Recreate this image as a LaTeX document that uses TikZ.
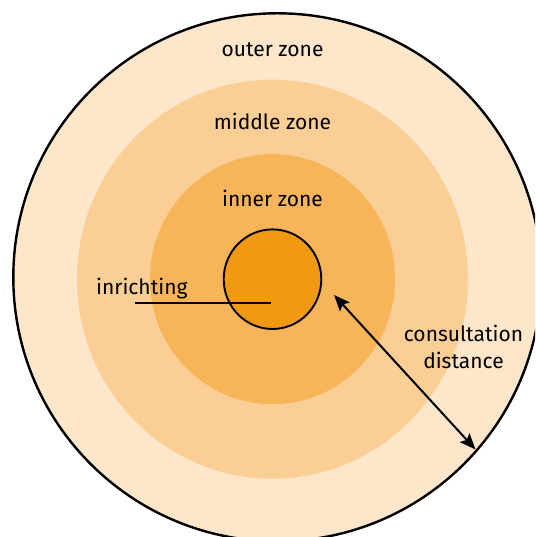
\documentclass[tikz,border=0pt]{standalone}
\usepackage{fontspec}
\setmainfont{Fira Sans}
\usetikzlibrary{arrows.meta}
\definecolor{outerc}{RGB}{253,230,201}
\definecolor{middlec}{RGB}{250,206,148}
\definecolor{innerc}{RGB}{247,180,88}
\definecolor{corec}{RGB}{242,153,19}
\tikzset{
  label/.style={font=\fontsize{21}{26.7}\selectfont, text=black, inner sep=0pt},
  arrowline/.style={line width=2pt, {Stealth[length=16pt,width=13pt,inset=3pt]}-{Stealth[length=16pt,width=13pt,inset=3pt]}},
  leader/.style={line width=2pt}
}
\begin{document}
\begin{tikzpicture}[x=1pt,y=1pt]
\useasboundingbox (0,0) rectangle (535,537);
\clip (0,0) rectangle (535,537);
\coordinate (octr) at (277.3,259.7);
\coordinate (ctr) at (272.5,257.8);
\filldraw[fill=outerc, draw=black, line width=2.4pt] (octr) circle [radius=264pt];
\fill[middlec] (ctr) ellipse [x radius=195.5pt, y radius=199.5pt];
\fill[innerc] (ctr) ellipse [x radius=122.5pt, y radius=125pt];
\filldraw[fill=corec, draw=black, line width=1.9pt] (ctr) ellipse [x radius=48.8pt, y radius=49.8pt];
\node[label] (outerlab) at (272.5,487) {outer zone};
\node[label] (middlelab) at (272.5,416) {middle zone};
\node[label] (innerlab) at (272.5,339) {inner zone};
\node[label, anchor=base west] (inrlab) at (96,242) {inrichting};
\node[label, anchor=base, align=center] (conslab) at (463.5,168.7) {consultation\\distance};
\coordinate (leadA) at (135,233.7);
\coordinate (leadB) at (270.5,233.7);
\draw[leader] (leadA) -- (leadB);
\coordinate (arrA) at (334,242);
\coordinate (arrB) at (475.5,87.5);
\draw[arrowline] (arrA) -- (arrB);
\end{tikzpicture}
\end{document}
